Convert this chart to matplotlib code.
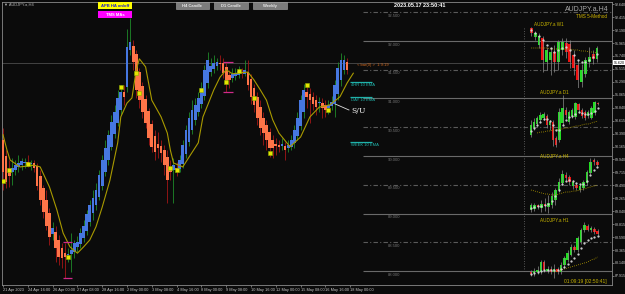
import matplotlib.pyplot as plt
import numpy as np
from matplotlib.patches import Rectangle

# AUDJPY.a H4 - Heiken Ashi bars (bar 0 = 21 Apr)
ha_open = [90.28, 90.00, 89.77, 89.72, 89.76, 89.81, 89.84, 89.88, 89.90, 89.86,
           89.88, 89.83, 89.65, 89.44, 89.24, 89.01, 88.64, 88.68, 88.54, 88.40,
           88.31, 88.28, 88.30, 88.33, 88.42, 88.47, 88.57, 88.70, 88.85, 89.01,
           89.15, 89.29, 89.48, 89.72, 89.93, 90.16, 90.38, 90.57, 90.80, 91.11,
           91.20, 91.84, 91.91, 91.77, 91.46, 91.22, 90.99, 90.78, 90.56, 90.35,
           90.21, 90.17, 90.10, 89.98, 89.79, 89.76, 89.79, 89.77, 89.86, 90.04,
           90.24, 90.45, 90.63, 90.77, 90.90, 91.04, 91.27, 91.46, 91.51, 91.57,
           91.62, 91.62, 91.55, 91.41, 91.36, 91.39, 91.41, 91.44, 91.43, 91.46,
           91.34, 91.18, 91.03, 90.85, 90.66, 90.54, 90.42, 90.28, 90.21, 90.19,
           90.17, 90.17, 90.14, 90.16, 90.23, 90.35, 90.52, 90.77, 91.11, 91.08,
           91.03, 90.97, 90.92, 90.92, 90.89, 90.83, 90.87, 90.90, 91.08, 91.32,
           91.50, 91.63]
ha_close = [89.72, 89.55, 89.65, 89.79, 89.84, 89.88, 89.91, 89.90, 89.84, 89.88,
            89.79, 89.48, 89.24, 89.03, 88.78, 88.59, 88.75, 88.40, 88.24, 88.23,
            88.24, 88.30, 88.37, 88.49, 88.50, 88.66, 88.78, 88.99, 89.15, 89.27,
            89.41, 89.67, 89.93, 90.14, 90.37, 90.59, 90.77, 91.01, 91.11, 91.03,
            91.90, 91.98, 91.63, 91.15, 90.97, 90.77, 90.57, 90.31, 90.16, 90.07,
            90.14, 90.05, 89.84, 89.58, 89.72, 89.84, 89.76, 89.93, 90.19, 90.45,
            90.66, 90.80, 90.89, 91.01, 91.18, 91.50, 91.67, 91.57, 91.62, 91.63,
            91.60, 91.44, 91.29, 91.32, 91.43, 91.44, 91.48, 91.43, 91.50, 91.23,
            91.03, 90.89, 90.66, 90.49, 90.40, 90.28, 90.14, 90.14, 90.17, 90.16,
            90.21, 90.10, 90.19, 90.28, 90.45, 90.66, 90.97, 91.15, 91.03, 90.97,
            90.90, 90.85, 90.93, 90.83, 90.80, 90.89, 90.94, 91.23, 91.53, 91.67,
            91.67, 91.50]
ha_high = [90.49, 90.10, 89.93, 89.97, 89.93, 90.02, 89.97, 89.97, 90.02, 89.93,
           89.93, 89.88, 89.76, 89.50, 89.41, 89.10, 88.85, 88.78, 88.63, 88.49,
           88.49, 88.40, 88.66, 88.54, 88.61, 88.75, 88.89, 89.06, 89.24, 89.41,
           89.53, 89.76, 90.02, 90.28, 90.45, 90.71, 90.89, 91.15, 91.23, 91.23,
           92.21, 92.40, 92.02, 91.84, 91.53, 91.29, 91.06, 90.83, 90.63, 90.45,
           90.42, 90.28, 90.19, 90.10, 89.93, 89.97, 89.90, 90.02, 90.28, 90.54,
           90.77, 90.97, 91.01, 91.11, 91.29, 91.58, 91.81, 91.70, 91.76, 91.70,
           91.76, 91.70, 91.63, 91.50, 91.53, 91.53, 91.57, 91.53, 91.67, 91.67,
           91.43, 91.25, 91.11, 90.97, 90.77, 90.63, 90.49, 90.37, 90.31, 90.28,
           90.31, 90.24, 90.28, 90.37, 90.54, 90.77, 91.06, 91.25, 91.23, 91.18,
           91.11, 91.06, 91.03, 91.01, 90.97, 90.97, 91.04, 91.32, 91.63, 91.79,
           91.76, 91.70]
ha_low = [89.41, 89.44, 89.46, 89.50, 89.67, 89.72, 89.76, 89.79, 89.81, 89.76,
          89.72, 89.41, 89.15, 88.92, 88.71, 88.45, 88.54, 88.16, 88.10, 88.05,
          87.88, 88.16, 87.98, 88.23, 88.33, 88.40, 88.50, 88.63, 88.78, 88.89,
          89.06, 89.24, 89.41, 89.65, 89.84, 90.10, 90.31, 90.52, 90.71, 90.89,
          91.11, 91.76, 91.50, 91.01, 90.83, 90.66, 90.49, 90.19, 90.07, 89.93,
          89.97, 89.90, 89.67, 89.18, 89.58, 89.18, 89.65, 89.72, 89.79, 89.97,
          90.17, 90.38, 90.54, 90.70, 90.83, 90.97, 91.18, 91.39, 91.44, 91.50,
          91.50, 91.36, 91.11, 91.18, 91.29, 91.32, 91.36, 91.36, 91.39, 91.15,
          90.90, 90.77, 90.54, 90.37, 90.19, 90.10, 89.98, 89.97, 90.02, 90.07,
          90.10, 89.93, 90.07, 90.10, 90.14, 90.28, 90.45, 90.66, 90.83, 90.57,
          90.80, 90.71, 90.77, 90.66, 90.68, 90.73, 90.80, 90.68, 90.97, 91.22,
          91.43, 91.43]

# signal dots and the moving average
dot_bar = [0, 2, 8, 21, 38, 43, 44, 54, 56, 64, 72, 76, 81, 86, 98, 105]
dot_price = [89.57, 89.76, 89.86, 88.24, 91.20, 91.44, 91.10, 89.79, 89.76, 91.15,
             91.29, 91.48, 91.01, 90.05, 91.23, 90.80]
ma_bar = [0, 1.3, 2.3, 5.5, 10, 12, 15, 17.4, 19.4, 21.6, 24, 26, 28, 30, 32, 34.5,
          37, 38, 40, 41.6, 43, 44, 46, 48, 51, 53, 54, 55, 58, 60, 63, 64.5, 68, 70,
          72, 74, 79, 81, 83, 85, 87, 89, 92.6, 96, 99, 102, 105.5, 108.7, 111, 113]
ma_val = [90.37, 90.10, 89.93, 89.81, 89.84, 89.81, 89.46, 89.06, 88.66, 88.42,
          88.31, 88.42, 88.54, 88.77, 89.11, 89.58, 90.23, 90.68, 90.92, 91.01,
          91.50, 91.69, 91.55, 90.97, 90.68, 90.40, 90.10, 89.88, 89.81, 89.98,
          90.23, 90.68, 91.15, 91.37, 91.50, 91.43, 91.46, 91.32, 91.15, 90.97,
          90.63, 90.40, 90.16, 90.33, 90.68, 90.85, 90.89, 91.03, 91.27, 91.44]

# boxes (start bar, end bar, top, bottom)
box_a = (19.4, 22.3, 88.50, 87.88)
box_b = (71.0, 74.2, 91.63, 91.11)

cur_price = 91.62
levels = [92.5, 92.0, 91.5, 91.0, 90.5, 90.0, 89.5, 89.0, 88.5, 88.0]
ema_names = ['4HR 10 EMA', 'DAY 10 EMA', 'WEEK 10 EMA']
ema_vals = [91.29, 91.03, 90.24]

price_ticks = [92.640, 92.415, 92.190, 91.965, 91.740, 91.515, 91.290, 91.065, 90.840,
               90.615, 90.390, 90.165, 89.940, 89.715, 89.490, 89.265, 89.040, 88.815,
               88.590, 88.365, 88.140, 87.915]
time_labels = ['21 Apr 2023', '24 Apr 16:00', '26 Apr 00:00', '27 Apr 08:00',
               '28 Apr 16:00', '2 May 00:00', '3 May 08:00', '4 May 16:00',
               '8 May 00:00', '9 May 08:00', '10 May 16:00', '12 May 00:00',
               '15 May 08:00', '16 May 16:00', '18 May 00:00']

# mini charts on the right
w1_open = [95.0, 94.1, 93.3, 94.0, 91.6, 91.8, 92.6, 91.6, 92.8, 93.5, 93.4, 92.3, 91.3, 89.6, 90.4, 91.6, 92.4, 91.9]
w1_close = [94.5, 94.5, 94.2, 91.8, 92.8, 92.6, 91.6, 93.6, 93.6, 92.6, 91.6, 91.0, 89.8, 90.8, 91.8, 92.1, 91.9, 93.0]
w1_high = [95.1, 94.7, 94.5, 94.2, 93.1, 93.0, 93.3, 93.8, 94.0, 94.0, 93.8, 92.8, 91.8, 91.4, 92.1, 93.1, 92.8, 93.2]
w1_low = [94.2, 93.8, 93.0, 90.6, 90.8, 90.3, 90.6, 90.8, 92.3, 92.0, 91.0, 90.3, 89.0, 89.1, 90.1, 91.1, 91.4, 91.6]
w1_slow = [93.0, 93.0, 93.0, 93.0, 93.0, 92.9, 92.9, 92.9, 92.9, 92.9, 92.9, 92.8, 92.8, 92.7, 92.7, 92.6, 92.6, 92.5]
w1_fast = [94.8, 94.5, 94.2, 93.8, 93.3, 93.0, 92.6, 92.8, 93.0, 93.1, 92.8, 92.3, 91.8, 91.6, 91.6, 91.8, 92.1, 92.4]

d1_open = [87.5, 88.2, 88.6, 89.0, 89.2, 89.4, 88.5, 88.8, 87.2, 87.0, 88.7, 90.0, 88.8, 89.4, 89.3, 90.6, 90.0, 89.8, 89.4, 89.2, 89.7, 90.7]
d1_close = [88.5, 88.8, 89.2, 89.5, 89.6, 88.5, 88.8, 87.0, 86.5, 89.8, 90.2, 89.5, 89.8, 90.0, 90.7, 90.0, 89.4, 89.2, 89.8, 90.2, 90.8, 90.6]
d1_high = [89.0, 89.2, 89.4, 89.8, 89.8, 89.6, 89.0, 89.0, 87.4, 90.2, 91.5, 90.3, 90.0, 90.2, 90.8, 90.7, 90.2, 90.0, 90.0, 90.4, 90.9, 90.8]
d1_low = [87.3, 88.0, 88.4, 88.8, 89.0, 88.2, 88.0, 86.4, 86.3, 86.8, 88.5, 89.2, 88.6, 89.2, 89.1, 89.7, 89.2, 89.0, 89.2, 89.1, 89.5, 90.5]
d1_slow = [None, None, 87.7, 87.8, 87.8, 87.9, 87.9, 88.0, 88.0, 88.1, 88.1, 88.2, 88.2, 88.3, 88.4, 88.4, 88.5, 88.6, 88.6, 88.7, 88.8, 88.9]
d1_fast = [87.9, 88.2, 88.5, 88.8, 89.1, 89.1, 88.9, 88.5, 88.0, 88.0, 88.5, 89.0, 89.3, 89.4, 89.6, 89.8, 89.7, 89.6, 89.6, 89.7, 89.9, 90.2]

h4_open = [87.0, 87.1, 87.5, 87.2, 87.6, 87.3, 87.5, 88.0, 89.0, 89.7, 90.5, 90.3, 89.4, 89.5, 89.0, 89.2, 89.7, 90.7, 92.0, 91.8]
h4_close = [87.5, 87.5, 87.3, 87.6, 87.4, 87.7, 88.4, 89.0, 89.8, 90.6, 90.2, 89.8, 89.8, 89.2, 89.4, 89.8, 90.8, 91.8, 91.8, 91.5]
h4_high = [87.7, 87.7, 87.6, 88.0, 88.2, 88.5, 88.8, 89.2, 90.2, 91.0, 90.8, 90.5, 90.0, 89.7, 89.6, 90.0, 91.0, 92.2, 92.2, 92.0]
h4_low = [86.8, 86.9, 87.1, 86.8, 86.9, 86.7, 87.2, 87.5, 88.8, 89.5, 90.0, 89.5, 89.1, 89.0, 88.8, 89.0, 89.5, 90.6, 91.5, 91.4]
h4_slow = [89.0, 88.9, 88.8, 88.7, 88.6, 88.6, 88.5, 88.5, 88.6, 88.7, 88.8, 88.8, 88.9, 88.9, 89.0, 89.1, 89.2, 89.3, 89.4, 89.5]
h4_fast = [87.2, 87.3, 87.4, 87.4, 87.5, 87.6, 87.9, 88.4, 89.0, 89.6, 89.9, 90.0, 89.9, 89.7, 89.6, 89.6, 89.9, 90.5, 91.0, 91.3]

h1_open = [87.8, 87.7, 87.8, 87.8, 88.8, 87.9, 88.1, 87.8, 88.1, 87.8, 88.5, 89.0, 89.5, 90.3, 90.0, 90.8, 92.0, 92.4, 92.0, 92.1, 91.9]
h1_close = [87.6, 87.9, 88.0, 88.8, 88.0, 88.1, 87.8, 88.1, 87.8, 88.5, 89.2, 89.7, 90.3, 90.0, 91.2, 92.0, 92.5, 92.0, 92.2, 91.8, 91.6]
h1_high = [88.0, 88.2, 88.4, 89.0, 89.0, 88.4, 88.4, 88.6, 88.3, 88.8, 89.4, 90.0, 90.6, 90.5, 91.4, 92.2, 92.8, 92.6, 92.4, 92.3, 92.1]
h1_low = [87.4, 87.4, 87.6, 87.6, 87.8, 87.7, 87.6, 87.2, 87.6, 87.6, 88.3, 88.8, 89.4, 89.8, 89.8, 90.6, 91.8, 91.9, 91.8, 91.6, 91.5]
h1_slow = [None, None, None, None, None, None, None, 87.8, 87.9, 88.0, 88.1, 88.2, 88.3, 88.4, 88.5, 88.6, 88.7, 88.8, 89.0, 89.1, 89.3]
h1_fast = [87.6, 87.7, 87.8, 87.9, 88.0, 88.0, 88.0, 88.0, 88.0, 88.1, 88.3, 88.6, 88.9, 89.2, 89.6, 90.2, 90.7, 91.0, 91.2, 91.3, 91.4]

plt.rcParams['font.family'] = ['Liberation Sans', 'DejaVu Sans']

W, H = 625, 294
BG = '#0b0b0b'
fig = plt.figure(figsize=(W / 100, H / 100), dpi=100, facecolor=BG)


def px_axes(x0, y0, x1, y1):
    # pixel box, origin top-left
    return fig.add_axes([x0 / W, 1 - y1 / H, (x1 - x0) / W, (y1 - y0) / H])


ax = px_axes(2, 2, 612, 285)
ax.set_facecolor(BG)
ax.set_xlim(-0.32, 196.45)
ax.set_ylim(87.757, 92.678)
for s in ax.spines.values():
    s.set_color('#8a8a8a')
    s.set_linewidth(0.6)

# horizontal level lines on the right part
for lv in levels:
    solid = abs(lv - round(lv)) < 1e-6
    ax.hlines(lv, 116, 196.45, colors='#6a6a6a' if solid else '#5a5a5a',
              linestyles='-' if solid else (0, (4, 2, 1, 2)), lw=0.8, zorder=1)
    ax.text(124, lv - 0.03, f'{lv:.3f}', color='#767676', fontsize=3.0, va='top', ha='left')

ax.axhline(cur_price, color='#4c4c4c', lw=0.6, zorder=1)

# candles
o = np.array(ha_open)
c = np.array(ha_close)
x = np.arange(len(o))
up = c >= o
ax.vlines(x, ha_low, ha_high, colors=np.where(up, '#1f8a2a', '#a31616'), lw=0.6, zorder=2)
hgt = c - o
hgt = np.where(np.abs(hgt) < 0.015, 0.015, hgt)
ax.bar(x, hgt, bottom=o, width=0.85, color=np.where(up, '#4677e0', '#ff7448'), lw=0, zorder=3)

ax.plot(ma_bar, ma_val, color='#a99a00', lw=0.8, zorder=4)
ax.plot(dot_bar, dot_price, ls='none', marker='s', ms=2.2, color='#e4e400',
        mec='#8fb000', mew=0.4, zorder=5)

for b in (box_a, box_b):
    ax.hlines([b[2], b[3]], b[0], b[1], colors='#d02a8a', lw=0.9, zorder=5)

# indicator labels next to the last bar
ax.text(114.2, 91.58, '< bar(0) >  1:9:19', color='#d2691e', fontsize=3.0, va='center')
for name, v in zip(ema_names, ema_vals):
    ax.hlines(v, 111.9, 119, colors='#20b2aa', lw=0.9)
    ax.text(112.3, v - 0.02, name, color='#20b2aa', fontsize=3.0, va='top')
ax.plot([106.5, 111.6], [90.92, 90.80], color='#e0e0e0', lw=0.6)
ax.text(112.5, 90.78, 'S/U', color='#f0f0f0', fontsize=5.5, family='serif', va='center')

# axes ticks
ax.yaxis.tick_right()
ax.set_yticks(price_ticks)
ax.set_yticklabels([f'{p:.3f}' for p in price_ticks])
ax.set_xticks(np.arange(0, 8 * len(time_labels), 8))
ax.set_xticklabels(time_labels, ha='left')
ax.tick_params(colors='#9a9a9a', labelcolor='#c8c8c8', length=1.2, width=0.5, pad=0.6)
ax.tick_params(axis='x', labelsize=2.8, pad=1)
ax.tick_params(axis='y', labelsize=2.6)
ax.text(1.0025, cur_price, f'{cur_price:.3f}', transform=ax.get_yaxis_transform(),
        fontsize=2.6, color='black', va='center', ha='left', zorder=10, clip_on=False,
        bbox=dict(boxstyle='square,pad=0.15', fc='white', ec='none'))


def mini(box, mo, mc, mh, ml, slow, fast, ylim):
    a = px_axes(*box)
    a.patch.set_alpha(0)
    a.axis('off')
    a.set_xlim(-0.85, len(mo) + 0.3)
    a.set_ylim(*ylim)
    xx = np.arange(len(mo))
    mo = np.array(mo)
    mc = np.array(mc)
    a.vlines(xx, ml, mh, colors='#8c8c8c', lw=0.5)
    a.bar(xx, mc - mo, bottom=mo, width=0.75,
          color=np.where(mc >= mo, '#22dd22', '#ee1111'), lw=0)
    a.plot(xx, np.array(slow, dtype=float), ls=(0, (1, 1.5)), color='#b8a000', lw=0.6)
    a.plot(xx, fast, ls='none', marker='.', ms=1.2, color='#d8d8d8')


mini((528, 25, 602, 88), w1_open, w1_close, w1_high, w1_low, w1_slow, w1_fast, (89.0, 95.3))
mini((528, 92, 602, 150), d1_open, d1_close, d1_high, d1_low, d1_slow, d1_fast, (86.0, 91.8))
mini((528, 157, 602, 215), h4_open, h4_close, h4_high, h4_low, h4_slow, h4_fast, (86.5, 92.3))
mini((528, 220, 602, 280), h1_open, h1_close, h1_high, h1_low, h1_slow, h1_fast, (87.0, 93.0))

# overlay for the terminal's buttons and captions (pixel coords)
ov = fig.add_axes([0, 0, 1, 1])
ov.set_xlim(0, W)
ov.set_ylim(H, 0)
ov.axis('off')
ov.patch.set_alpha(0)

ov.text(4, 4.5, '\u25bc AUDJPY.a,H4', color='#b0b0b0', fontsize=2.9, va='center')
ov.add_patch(Rectangle((98, 2), 34, 7, fc='#ffff00', ec='none'))
ov.text(115, 5.6, 'APB HA on/off', color='#1a1acc', fontsize=3.0, weight='bold', ha='center', va='center')
ov.add_patch(Rectangle((98, 11), 34, 7, fc='#ff00ff', ec='none'))
ov.text(115, 14.6, 'TMS MAs', color='white', fontsize=3.0, weight='bold', ha='center', va='center')
for bx, bw, label in [(176, 33, 'H4 Candle'), (214, 34, 'D1 Candle'), (253, 34, 'Weekly')]:
    ov.add_patch(Rectangle((bx, 2), bw, 7, fc='#7c7c7c', ec='#a8a8a8', lw=0.4))
    ov.text(bx + bw / 2, 5.6, label, color='#e6e6e6', fontsize=3.0, weight='bold', ha='center', va='center')

ov.text(420, 5.5, '2023.05.17 23:50:41', color='white', fontsize=4.0, weight='bold', ha='center', va='center')
ov.text(609, 9.5, 'AUDJPY.a.H4', color='#a8a8a8', fontsize=5.0, ha='right', va='center')
ov.text(607, 16, 'TMS 5-Method', color='#d4b800', fontsize=3.3, ha='right', va='center')
ov.text(549, 25, 'AUDJPY.a W1', color='#c8b400', fontsize=3.3, ha='center', va='center')
ov.text(554, 92, 'AUDJPY.a D1', color='#c8b400', fontsize=3.3, ha='center', va='center')
ov.text(554, 156, 'AUDJPY.a H4', color='#c8b400', fontsize=3.3, ha='center', va='center')
ov.text(554, 221, 'AUDJPY.a H1', color='#c8b400', fontsize=3.3, ha='center', va='center')
ov.text(607, 281.5, '01:09:19 [02:50:41]', color='#c8b400', fontsize=3.5, ha='right', va='center')
ov.plot([524, 524], [28, 272], color='#707070', lw=0.6, ls=(0, (1, 2)))

fig.savefig('out.png', dpi=100, facecolor=BG)
